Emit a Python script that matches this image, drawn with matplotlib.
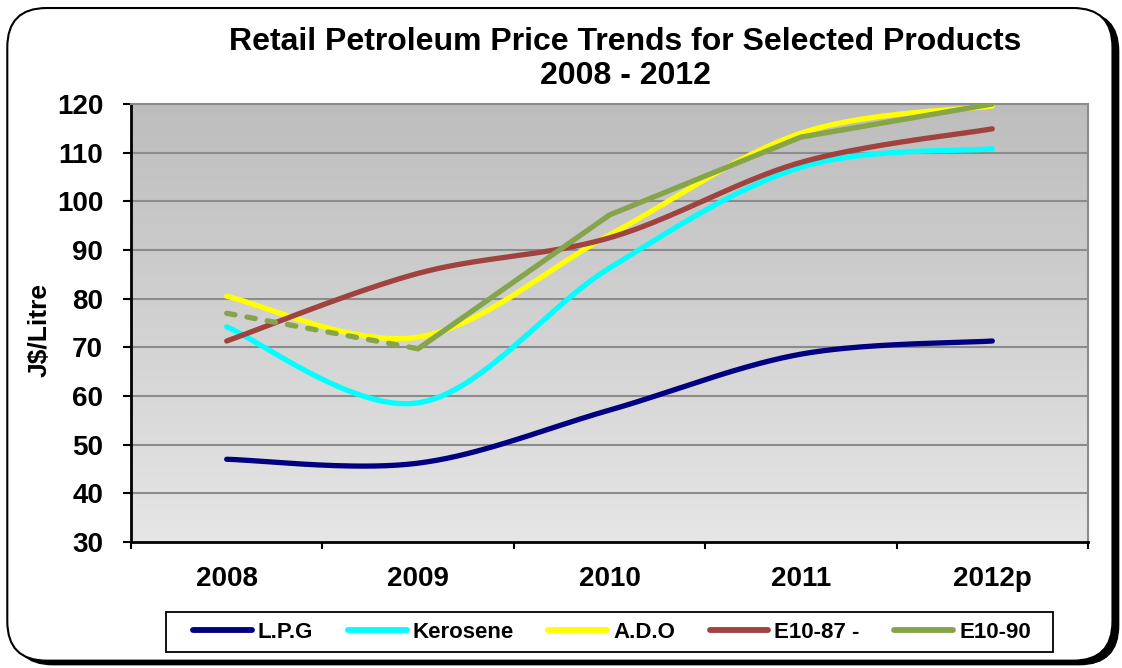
import numpy as np
import matplotlib.pyplot as plt
from matplotlib.patches import FancyBboxPatch, Rectangle
from matplotlib.colors import LinearSegmentedColormap

years = ['2008', '2009', '2010', '2011', '2012p']
lpg = [47.0, 46.2, 57.1, 68.6, 71.3]
kerosene = [74.2, 58.6, 86.3, 107.0, 110.8]
ado = [80.5, 72.1, 93.1, 114.0, 119.6]
e10_87 = [71.3, 85.2, 92.5, 108.0, 114.9]
e10_90 = [77.0, 69.7, 97.2, 113.2, 120.0]

plt.rcParams['font.family'] = ['Liberation Sans', 'DejaVu Sans']
W, H = 1122, 668


# Excel style smoothed line (Catmull-Rom through the points)
def smooth(xs, ys, n=40):
    xs = np.asarray(xs, float)
    ys = np.asarray(ys, float)
    px = np.concatenate([[xs[0]], xs, [xs[-1]]])
    py = np.concatenate([[ys[0]], ys, [ys[-1]]])
    outx, outy = [], []
    t = np.linspace(0, 1, n)
    for i in range(1, len(px) - 2):
        p0, p1, p2, p3 = (np.array([px[j], py[j]]) for j in range(i - 1, i + 3))
        c1 = p1 + (p2 - p0) / 6
        c2 = p2 - (p3 - p1) / 6
        b = ((1 - t) ** 3)[:, None] * p1 + (3 * (1 - t) ** 2 * t)[:, None] * c1 \
            + (3 * (1 - t) * t ** 2)[:, None] * c2 + (t ** 3)[:, None] * p2
        outx.extend(b[:, 0])
        outy.extend(b[:, 1])
    return outx, outy


fig = plt.figure(figsize=(W / 100, H / 100), dpi=100)

# rounded border with shadow
shadow = FancyBboxPatch((0.012, 0.005), 0.985, 0.977, boxstyle='round,pad=0,rounding_size=0.035',
                        transform=fig.transFigure, facecolor='black', edgecolor='black',
                        mutation_aspect=W / H, zorder=-2)
border = FancyBboxPatch((0.0065, 0.011), 0.985, 0.977, boxstyle='round,pad=0,rounding_size=0.035',
                        transform=fig.transFigure, facecolor='white', edgecolor='black', linewidth=1.5,
                        mutation_aspect=W / H, zorder=-1)
fig.patches.extend([shadow, border])

ax = fig.add_axes([131 / W, 1 - 542 / H, (1088 - 131) / W, (542 - 104) / H])
x = np.arange(len(years))

# grey gradient background
grad = np.linspace(0, 1, 256)[:, None]
ax.imshow(grad, cmap=LinearSegmentedColormap.from_list('g', ['#e6e6e6', '#bdbdbd']),
          extent=[-0.5, 4.5, 30, 120], aspect='auto', origin='lower', zorder=0)

for v in range(40, 130, 10):
    ax.axhline(v, color='#8c8c8c', linewidth=1.5, zorder=1)

lw = 3.8
sx, sy = smooth(x, lpg)
ax.plot(sx, sy, color='#000080', linewidth=lw, solid_capstyle='round', zorder=3, label='L.P.G')
sx, sy = smooth(x, kerosene)
ax.plot(sx, sy, color='#00ffff', linewidth=lw, solid_capstyle='round', zorder=3, label='Kerosene')
sx, sy = smooth(x, ado)
ax.plot(sx, sy, color='#ffff00', linewidth=lw, solid_capstyle='round', zorder=3, label='A.D.O')
sx, sy = smooth(x, e10_87)
ax.plot(sx, sy, color='#a0423f', linewidth=lw, solid_capstyle='round', zorder=4, label='E10-87 -')
ax.plot(x[1:], e10_90[1:], color='#86a44a', linewidth=lw, solid_capstyle='round', zorder=4, label='E10-90')
ax.plot(x[:2], e10_90[:2], color='#86a44a', linewidth=lw, linestyle=(0, (1.6, 2.3)),
        dash_capstyle='round', zorder=4)

ax.set_xlim(-0.5, 4.5)
ax.set_ylim(30, 120)
ax.set_yticks(range(30, 130, 10))
ax.set_xticks(np.arange(-0.5, 5, 1), minor=False)
ax.set_xticklabels([])
ax.set_xticks(x, minor=True)
ax.set_xticklabels(years, minor=True, fontsize=20, fontweight='bold')
ax.tick_params(axis='x', which='minor', length=0, pad=17)
ax.tick_params(axis='x', which='major', length=5, width=1.5, direction='out')
ax.tick_params(axis='y', length=6, width=1.5, labelsize=20, pad=14)
for lab in ax.get_yticklabels():
    lab.set_fontweight('bold')
for side in ['left', 'bottom']:
    ax.spines[side].set_linewidth(2)
for side in ['top', 'right']:
    ax.spines[side].set_color('#8c8c8c')
    ax.spines[side].set_linewidth(1.5)

fig.text(40 / W, 1 - 330 / H, 'J$/Litre', rotation=90, ha='center', va='center',
         fontsize=19, fontweight='bold')

fig.text(625 / W, 1 - 42 / H, 'Retail Petroleum Price Trends for Selected Products',
         ha='center', va='center', fontsize=23, fontweight='bold')
fig.text(625 / W, 1 - 76 / H, '2008 - 2012', ha='center', va='center', fontsize=23, fontweight='bold')

# legend box
fig.patches.append(Rectangle((166 / W, 1 - 652 / H), (1053 - 166) / W, 40 / H, transform=fig.transFigure,
                             facecolor='white', edgecolor='black', linewidth=1.3, zorder=1))
leg = fig.legend(loc='center', bbox_to_anchor=(612 / W, 1 - 632 / H), ncol=5, frameon=False,
                 handlelength=2.65, handletextpad=0.27, columnspacing=1.55, borderpad=0.3,
                 prop={'weight': 'bold', 'size': 16})
leg.set_zorder(5)
for h in leg.legend_handles:
    h.set_linewidth(4.2)

fig.savefig('out.png', dpi=100)
